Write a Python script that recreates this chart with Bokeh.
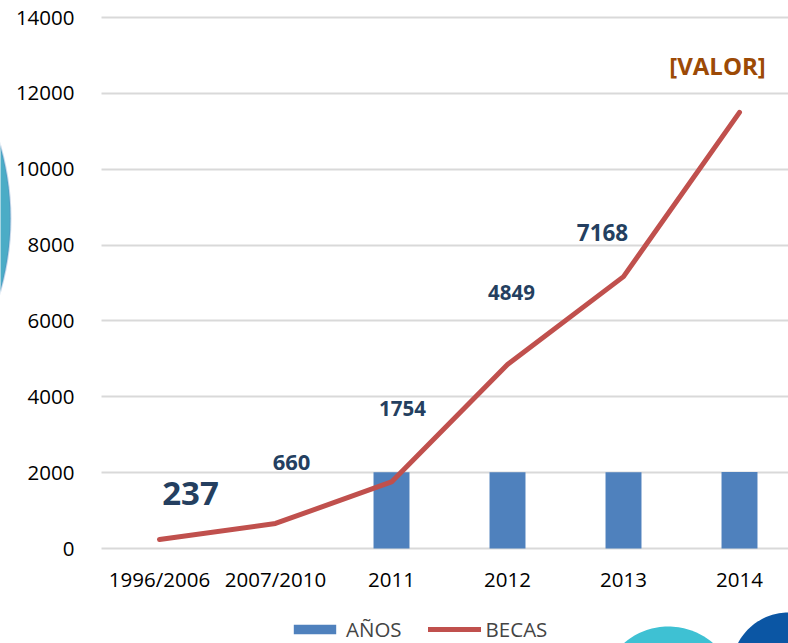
import numpy as np
from bokeh.plotting import figure
from bokeh.models import (ColumnDataSource, LabelSet, Legend, LegendItem, FixedTicker,
                          Range1d, PolyAnnotation, Grid)
from bokeh.core.properties import value
from bokeh.embed import file_html
from bokeh.resources import INLINE

# ---- data ----
categories = ["1996/2006", "2007/2010", "2011", "2012", "2013", "2014"]
anos_categories = ["2011", "2012", "2013", "2014"]
anos_values = [2011, 2012, 2013, 2014]
becas_values = [237, 660, 1754, 4849, 7168, 11500]
becas_labels = ["237", "660", "1754", "4849", "7168", "[VALOR]"]
y_ticks = [0, 2000, 4000, 6000, 8000, 10000, 12000, 14000]

# ---- styles ----
label_dx = [31, 16, 11, 4, -21, -22]
label_dy = [46, 61, 73, 72, 44, 47]
label_sizes = ["33px", "22px", "20.5px", "20.5px", "22.5px", "24px"]
label_colors = ["#243F60"] * 5 + ["#9C4A06"]

FONT = "Open Sans"
BFONT = "Open Sans"

W, H = 788, 643
# frame covers whole canvas; axes are pinned inside it
X0, X1 = -159 / 116, (788 - 159) / 116
YPP = 14000 / 531
Y0, Y1 = -(643 - 548) * YPP, 548 * YPP
p = figure(width=W, height=H, output_backend="svg", toolbar_location=None,
           x_range=Range1d(X0, X1), y_range=Range1d(Y0, Y1),
           min_border_left=0, min_border_right=0, min_border_top=0, min_border_bottom=0)
p.outline_line_color = None
p.background_fill_color = "white"
p.border_fill_color = "white"

cat_idx = {c: i for i, c in enumerate(categories)}
bar_src = ColumnDataSource(dict(x=[cat_idx[c] for c in anos_categories], top=anos_values))
bars = p.vbar(x="x", top="top", width=0.31, source=bar_src, fill_color="#4F81BD", line_color=None)

line_src = ColumnDataSource(dict(x=list(range(len(categories))), y=becas_values,
                                 text=becas_labels, dx=label_dx, dy=label_dy,
                                 size=label_sizes, color=label_colors))
ln = p.line(x="x", y="y", source=line_src, line_color="#C0504D", line_width=5,
            line_cap="round", line_join="round")

labels = LabelSet(x="x", y="y", text="text", source=line_src, x_offset="dx", y_offset="dy",
                  text_font_size="size", text_color="color", text_font=value(BFONT),
                  text_font_style="bold", text_align="center", text_baseline="middle")
p.add_layout(labels)

# axes
p.xaxis.ticker = FixedTicker(ticks=list(range(len(categories))))
p.xaxis.major_label_overrides = {i: c for i, c in enumerate(categories)}
p.xaxis.fixed_location = 0
p.yaxis.ticker = FixedTicker(ticks=y_ticks)
p.yaxis.fixed_location = -0.5
for ax in (p.xaxis[0], p.yaxis[0]):
    ax.axis_line_color = None
    ax.major_tick_line_color = None
    ax.minor_tick_line_color = None
    ax.major_label_text_font = FONT
    ax.major_label_text_font_size = "20.5px"
    ax.major_label_text_color = "#000000"
p.xaxis.major_label_standoff = 10
p.yaxis.major_label_standoff = 21
p.xgrid.grid_line_color = None
g = p.ygrid[0]
g.grid_line_color = "#D9D9D9"
g.grid_line_width = 2
if "cross_bounds" in Grid.properties():
    g.cross_bounds = (-0.5, X1)
else:
    g.grid_line_color = None
    p.segment(x0=-0.5, x1=X1, y0=y_ticks, y1=y_ticks, line_color="#D9D9D9", line_width=2,
              level="underlay")

legend = Legend(items=[LegendItem(label="AÑOS", renderers=[bars]),
                       LegendItem(label="BECAS", renderers=[ln])],
                orientation="horizontal", location=(288, 0),
                label_text_font=FONT, label_text_font_size="20.5px",
                glyph_width=53, glyph_height=12, label_standoff=5, spacing=26,
                border_line_color=None, background_fill_alpha=0,
                padding=0, margin=0)
p.add_layout(legend)

# decorative circles (screen units, from frame bottom-left, y up)
def circ(cx, cy, r, n=160):
    t = np.linspace(0, 2 * np.pi, n)
    return list(cx + r * np.cos(t)), list(H - (cy + r * np.sin(t)))

for cx, cy, r, fc, lc in [(-254, 218, 264, "#4BACC6", "#4F81BD"),
                          (668, 694, 68, "#3EC1D3", None),
                          (788, 669, 57, "#0B56A4", None)]:
    xs, ys = circ(cx, cy, r)
    p.add_layout(PolyAnnotation(xs=xs, ys=ys, xs_units="screen", ys_units="screen",
                                fill_color=fc, fill_alpha=1, line_color=lc,
                                line_width=2 if lc else 0, level="underlay"))

open("out.html", "w").write(file_html(p, INLINE))
